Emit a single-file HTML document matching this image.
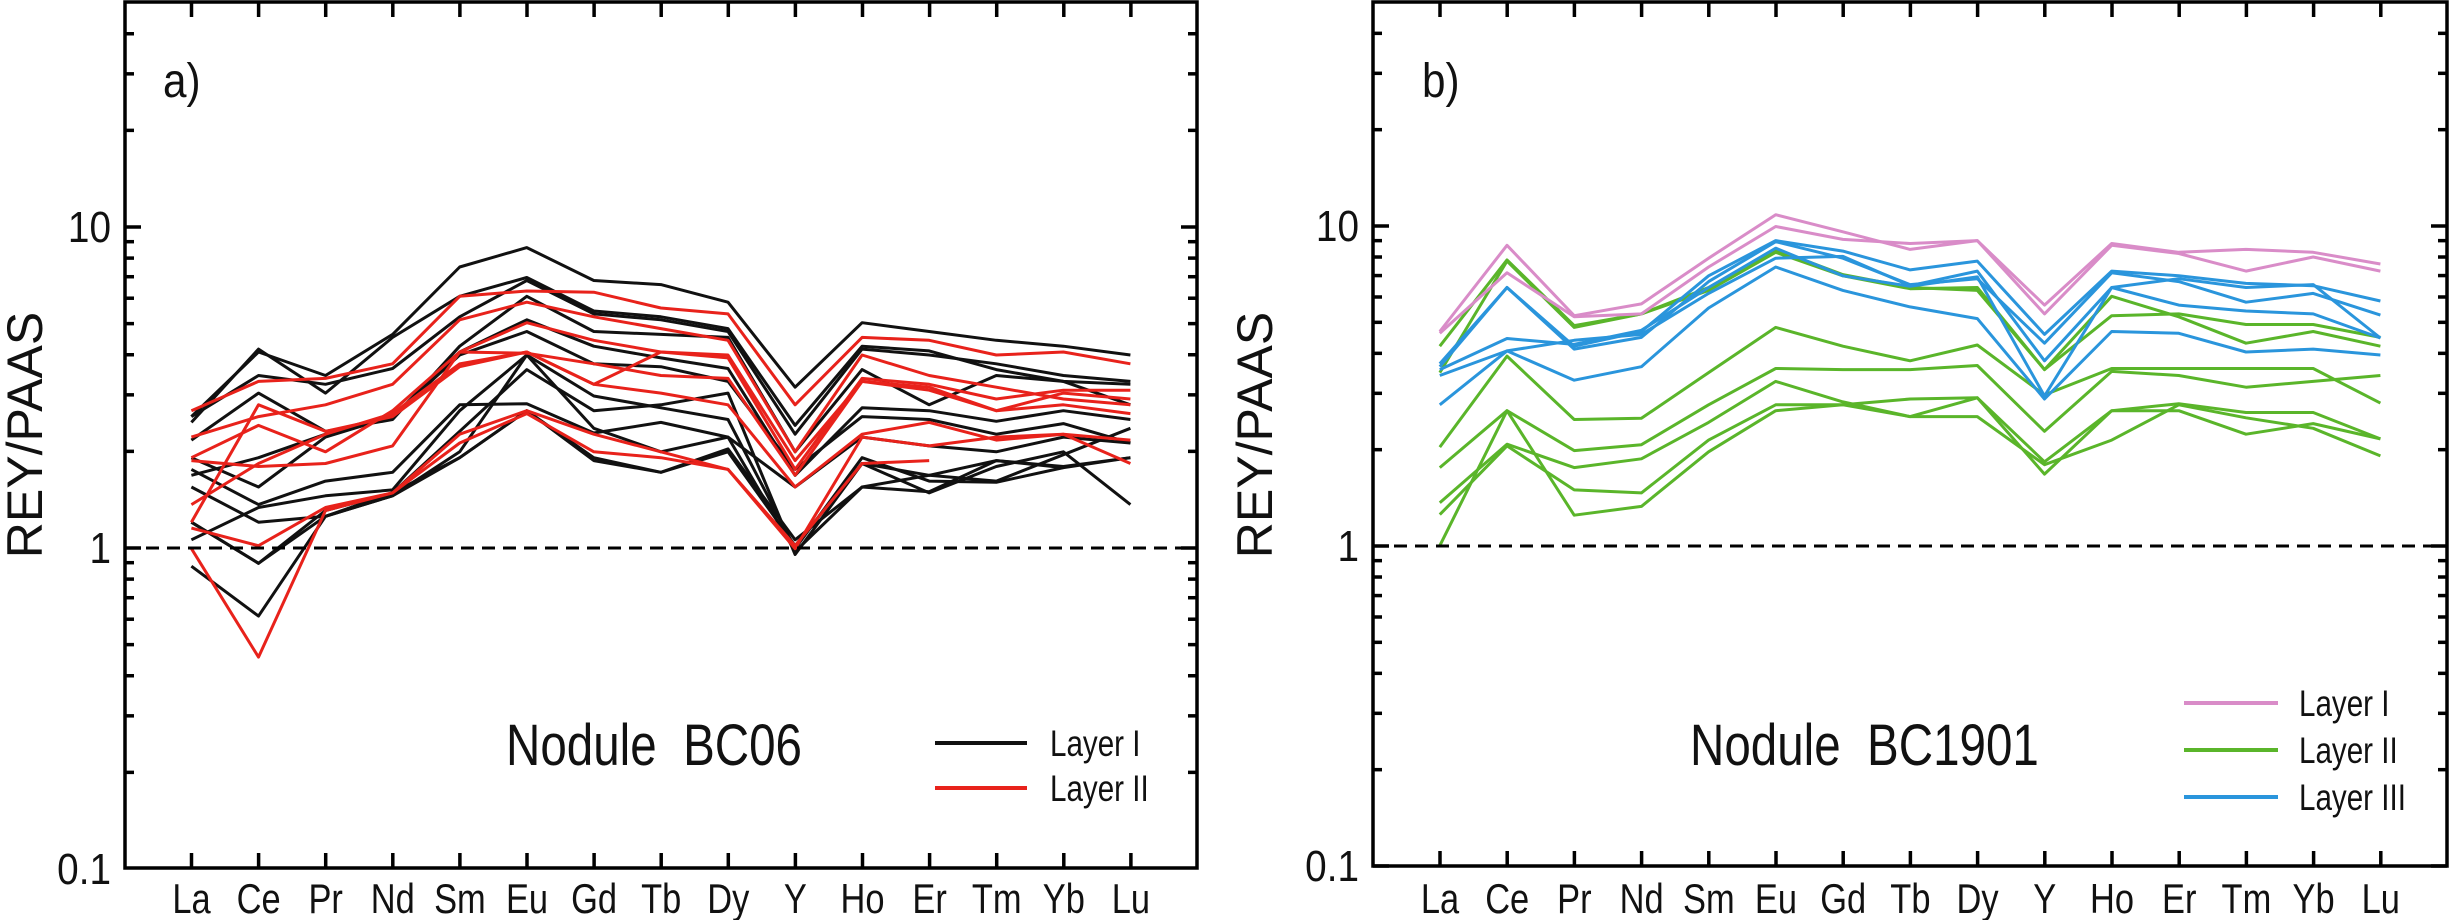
<!DOCTYPE html>
<html><head><meta charset="utf-8">
<style>
html,body{margin:0;padding:0;background:#fff;}
svg{display:block;}
text{font-family:"Liberation Sans",sans-serif;fill:#111;}
</style></head>
<body>
<svg id="s" width="2449" height="920" viewBox="0 0 2449 920" xmlns="http://www.w3.org/2000/svg"></svg>
<script>
const S=document.getElementById('s');
let h='';
const els=['La','Ce','Pr','Nd','Sm','Eu','Gd','Tb','Dy','Y','Ho','Er','Tm','Yb','Lu'];
function sx(x,k){return `transform="translate(${x},0) scale(${k},1) translate(${-x},0)"`;}
function panel(o){
  const L=o.L,R=o.R,T=2,B=o.B,y10=o.y10,dec=o.dec;
  const yv=v=>y10+dec*(1-Math.log10(v));
  const xs=i=>o.x0+i*o.dx;
  o.series.forEach(s=>{
    const pts=s.d.map((yz,i)=>yz==null?null:[o.off+(o.xz0+i*o.xzd)*0.7812, yz*920/1568]).filter(p=>p);
    h+=`<polyline fill="none" stroke="${s.c}" stroke-width="3" stroke-linejoin="round" points="${pts.map(p=>p[0].toFixed(1)+','+p[1].toFixed(1)).join(' ')}"/>`;
  });
  h+=`<line x1="${L}" x2="${R}" y1="${yv(1)}" y2="${yv(1)}" stroke="#000" stroke-width="3" stroke-dasharray="13,8"/>`;
  h+=`<rect x="${L}" y="${T}" width="${R-L}" height="${B-T}" fill="none" stroke="#000" stroke-width="3.5"/>`;
  for(let e=-1;e<=1;e++){for(let m=1;m<=9;m++){const v=m*Math.pow(10,e);const y=yv(v);if(y<T+2||y>B)continue;
    const len=m==1?16:9;
    h+=`<line x1="${L}" x2="${L+len}" y1="${y}" y2="${y}" stroke="#000" stroke-width="3.5"/>`;
    h+=`<line x1="${R}" x2="${R-len}" y1="${y}" y2="${y}" stroke="#000" stroke-width="3.5"/>`;}}
  [['10',10],['1',1],['0.1',0.1]].forEach(t=>{h+=`<text x="${L-14}" y="${yv(t[1])+15}" font-size="44" text-anchor="end" ${sx(L-14,0.88)}>${t[0]}</text>`;});
  els.forEach((e,i)=>{const x=xs(i);
    h+=`<line x1="${x}" x2="${x}" y1="${B}" y2="${B-15}" stroke="#000" stroke-width="3.5"/>`;
    h+=`<line x1="${x}" x2="${x}" y1="${T}" y2="${T+15}" stroke="#000" stroke-width="3.5"/>`;
    h+=`<text x="${x}" y="913" font-size="42" text-anchor="middle" ${sx(x,0.82)}>${e}</text>`;});
  h+=`<text x="0" y="0" font-size="50" text-anchor="middle" transform="translate(${o.ylx},435) rotate(-90)">REY/PAAS</text>`;
  h+=`<text x="${o.lab[1]}" y="97" font-size="48" ${sx(o.lab[1],0.88)}>${o.lab[0]}</text>`;
  h+=`<text x="${o.title[1]}" y="765" font-size="58" ${sx(o.title[1],0.82)} xml:space="preserve">${o.title[0]}</text>`;
  o.leg.forEach(l=>{
    h+=`<line x1="${o.lx1}" x2="${o.lx2}" y1="${l[2]}" y2="${l[2]}" stroke="${l[1]}" stroke-width="4"/>`;
    h+=`<text x="${o.ltx}" y="${l[2]+13}" font-size="37" ${sx(o.ltx,0.8)}>${l[0]}</text>`;
  });
}
const K='#111',Rd='#e8221b',P='#d98cc8',G='#5ab52a',Bl='#2a95dc';
panel({L:125,R:1197,B:868,y10:227,dec:321,x0:191.5,dx:67.1,off:0,xz0:245,xzd:85.86,ylx:42,
 lab:['a)',163],title:['Nodule  BC06',506],lx1:935,lx2:1027,ltx:1050,
 leg:[['Layer I',K,743],['Layer II',Rd,788]],
 series:[
 {c:K,d:[710,600,640,570,455,422,478,485,515,660,550,565,580,590,605]},
 {c:K,d:[720,595,670,575,505,473,530,540,560,725,590,598,630,650,655]},
 {c:K,d:[710,640,655,628,540,478,535,545,565,740,595,605,620,640,650]},
 {c:K,d:[750,670,735,715,590,505,565,570,575,770,630,690,640,650,690]},
 {c:K,d:[780,830,745,710,605,565,620,625,650,800,710,715,740,722,755]},
 {c:K,d:[800,860,820,805,690,688,738,720,745,830,745,760,770,745,755]},
 {c:K,d:[830,890,880,840,780,700,780,805,765,920,830,838,785,795,780]},
 {c:K,d:[890,960,870,840,735,630,700,690,670,945,790,840,795,770,860]},
 {c:K,d:[920,865,845,835,700,605,675,695,715,935,780,820,822,797,780]},
 {c:K,d:[965,1050,880,845,770,605,730,770,745,940,830,810,820,775,730]},
 {c:K,d:[810,780,740,710,600,545,590,610,628,810,695,700,718,700,715]},
 {c:K,d:[890,960,880,845,780,700,785,805,770,930,790,810,785,797,null]},
 {c:Rd,d:[700,650,645,620,505,496,498,525,535,690,575,580,605,600,620]},
 {c:Rd,d:[745,710,690,655,545,515,540,560,580,770,605,640,660,680,690]},
 {c:Rd,d:[780,725,770,700,600,550,580,600,610,800,645,655,680,665,665]},
 {c:Rd,d:[785,795,790,760,600,602,620,640,645,810,650,665,700,690,705]},
 {c:Rd,d:[860,790,740,705,620,600,655,670,690,830,740,720,750,740,790]},
 {c:Rd,d:[900,930,865,840,740,700,740,770,800,930,790,785,null,null,null]},
 {c:Rd,d:[935,1120,870,840,755,705,770,780,800,935,745,760,745,740,750]},
 {c:Rd,d:[890,690,735,710,625,600,655,600,605,785,650,660,700,670,680]}
 ]});
panel({L:1373,R:2447,B:866,y10:226,dec:320,x0:1440,dx:67.2,off:1225,xz0:275,xzd:86,ylx:1272,
 lab:['b)',1422],title:['Nodule  BC1901',1690],lx1:2184,lx2:2278,ltx:2299,
 leg:[['Layer I',P,703],['Layer II',G,750],['Layer III',Bl,797]],
 series:[
 {c:G,d:[590,443,555,535,490,425,468,490,495,630,505,540,585,565,590]},
 {c:G,d:[635,445,558,535,495,430,470,492,490,630,538,535,553,553,575]},
 {c:G,d:[762,607,715,713,635,558,590,615,588,673,628,628,628,628,687]},
 {c:G,d:[797,700,768,758,690,628,630,630,623,735,633,640,660,650,640]},
 {c:G,d:[857,757,797,782,720,650,685,710,678,787,700,688,703,703,748]},
 {c:G,d:[877,760,835,840,750,690,690,680,678,808,700,700,740,722,748]},
 {c:G,d:[930,700,878,863,770,700,690,710,710,792,750,690,712,730,777]},
 {c:Bl,d:[620,490,590,565,470,410,428,460,445,570,462,470,483,487,513]},
 {c:Bl,d:[625,490,595,575,480,412,440,485,475,585,465,480,515,500,537]},
 {c:Bl,d:[640,598,580,570,500,440,437,487,462,615,490,520,530,535,576]},
 {c:Bl,d:[690,598,648,625,525,455,495,523,543,680,565,568,600,595,605]},
 {c:Bl,d:[630,577,587,563,490,423,470,488,472,675,490,475,490,485,576]},
 {c:P,d:[565,418,538,518,440,366,395,425,410,520,415,430,425,430,450]},
 {c:P,d:[568,465,540,535,455,386,408,415,410,535,418,432,462,438,462]}
 ]});
S.innerHTML=h;
</script>
</body></html>
